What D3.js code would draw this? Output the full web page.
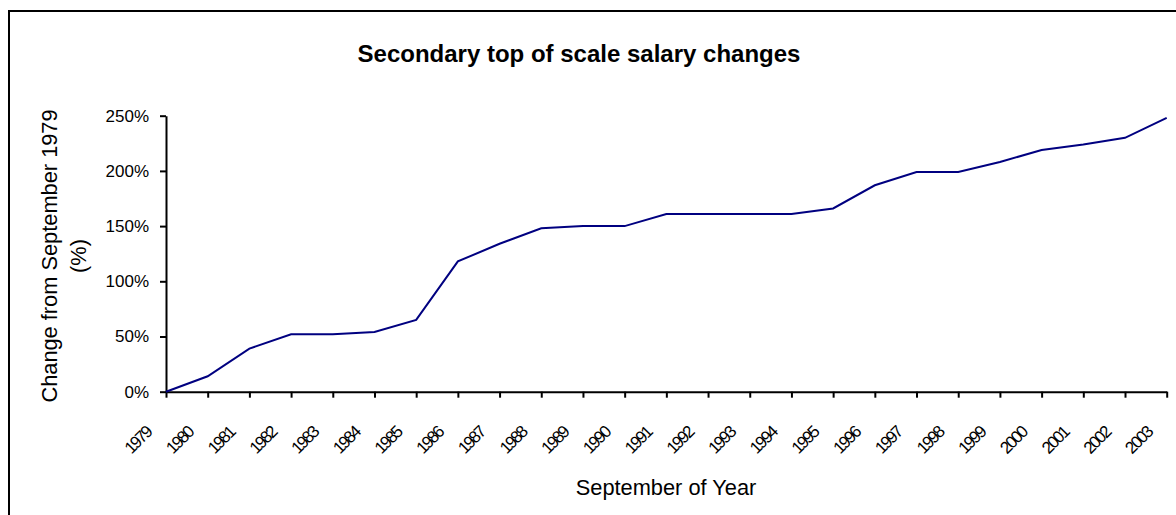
<!DOCTYPE html>
<html>
<head>
<meta charset="utf-8">
<script src="https://cdn.jsdelivr.net/npm/d3@7"></script>
<style>
  body { margin: 0; background: #fff; }
  svg { display: block; font-family: "Liberation Sans", Arial, sans-serif; }
</style>
</head>
<body>
<svg id="svg1" width="1176" height="515"></svg>
<script>
// data
var years = ["1979","1980","1981","1982","1983","1984","1985","1986","1987","1988","1989","1990",
             "1991","1992","1993","1994","1995","1996","1997","1998","1999","2000","2001","2002","2003"];
var change = [0, 14, 39, 52, 52, 54, 65, 118, 134, 148, 150, 150,
              161, 161, 161, 161, 166, 187, 199, 199, 208, 219, 224, 230, 248];
var yTicks = [0, 50, 100, 150, 200, 250];

var svg = d3.select('#svg1');

// outer chart border (right and bottom edges run off the picture)
svg.append('rect')
    .attr('x', 9).attr('y', 11)
    .attr('width', 1180).attr('height', 520)
    .attr('fill', 'none')
    .attr('stroke', '#000')
    .attr('stroke-width', 2);

var x = d3.scalePoint()
    .domain(years)
    .range([166, 1166.7]);

var y = d3.scaleLinear()
    .domain([0, 250])
    .range([391.7, 115.7]);

// title
svg.append('text')
    .attr('x', 579).attr('y', 62)
    .attr('text-anchor', 'middle')
    .attr('font-size', 24)
    .attr('font-weight', 'bold')
    .text('Secondary top of scale salary changes');

// y axis
var yAxis = svg.append('g')
    .attr('transform', 'translate(166,0)')
    .call(d3.axisLeft(y).tickValues(yTicks).tickFormat(function(d){ return d + '%'; })
        .tickSize(6).tickSizeOuter(0).tickPadding(11));
yAxis.selectAll('text').attr('font-size', 17).attr('font-family', null).attr('fill', '#000');
yAxis.selectAll('line, path').attr('stroke', '#000').attr('stroke-width', 2);

// x axis, labels squeezed like the original
var xAxis = svg.append('g')
    .attr('transform', 'translate(0,391.7)')
    .call(d3.axisBottom(x).tickSize(6).tickSizeOuter(0));
xAxis.selectAll('line, path').attr('stroke', '#000').attr('stroke-width', 2);
xAxis.selectAll('text')
    .attr('font-size', 17)
    .attr('font-family', null)
    .attr('letter-spacing', '-2px')
    .attr('fill', '#000')
    .attr('text-anchor', 'end')
    .attr('x', 0).attr('y', 0).attr('dy', 0)
    .attr('transform', 'translate(-14,42) rotate(-45)');

// axis titles
svg.append('text')
    .attr('transform', 'translate(57,256) rotate(-90)')
    .attr('text-anchor', 'middle')
    .attr('font-size', 21.8)
    .text('Change from September 1979');
svg.append('text')
    .attr('transform', 'translate(86,256) rotate(-90)')
    .attr('text-anchor', 'middle')
    .attr('font-size', 21.8)
    .text('(%)');

svg.append('text')
    .attr('x', 666).attr('y', 495)
    .attr('text-anchor', 'middle')
    .attr('font-size', 21.8)
    .text('September of Year');

// the line
var line = d3.line()
    .x(function(d, i){ return x(years[i]); })
    .y(function(d){ return y(d); });

svg.append('path')
    .datum(change)
    .attr('d', line)
    .attr('fill', 'none')
    .attr('stroke', '#000080')
    .attr('stroke-width', 2);
</script>
</body>
</html>
